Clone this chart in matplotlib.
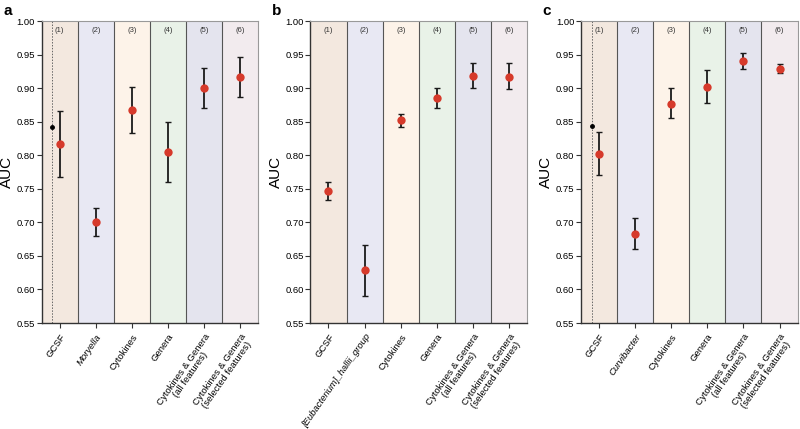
import matplotlib
matplotlib.use("Agg")
import matplotlib.pyplot as plt
import numpy as np

plt.rcParams['font.family'] = ['Liberation Sans', 'DejaVu Sans']

col_colors = ['#f3e8df', '#e8e8f3', '#fdf3e9', '#e9f2e8', '#e4e4ee', '#f2ebee']
col_nums = ['(1)', '(2)', '(3)', '(4)', '(5)', '(6)']

labels_a = ['GCSF', 'Moryella', 'Cytokines', 'Genera', 'Cytokines & Genera\n(all features)', 'Cytokines & Genera\n(selected features)']
labels_b = ['GCSF', '[Eubacterium]_hallii_group', 'Cytokines', 'Genera', 'Cytokines & Genera\n(all features)', 'Cytokines & Genera\n(selected features)']
labels_c = ['GCSF', 'Curvibacter', 'Cytokines', 'Genera', 'Cytokines & Genera\n(all features)', 'Cytokines & Genera\n(selected features)']

auc_a = [0.817, 0.700, 0.868, 0.805, 0.900, 0.916]
lo_a = [0.768, 0.680, 0.833, 0.760, 0.870, 0.887]
hi_a = [0.866, 0.721, 0.902, 0.850, 0.930, 0.946]

auc_b = [0.746, 0.629, 0.852, 0.885, 0.918, 0.917]
lo_b = [0.733, 0.591, 0.842, 0.870, 0.900, 0.899]
hi_b = [0.760, 0.666, 0.862, 0.900, 0.937, 0.937]

auc_c = [0.802, 0.683, 0.877, 0.902, 0.940, 0.929]
lo_c = [0.771, 0.660, 0.855, 0.878, 0.928, 0.922]
hi_c = [0.834, 0.706, 0.900, 0.927, 0.953, 0.936]

gcsf_ref_a = 0.842
gcsf_ref_c = 0.843

fig = plt.figure(figsize=(8, 4.29), dpi=100)

panels = [
    ('a', 0.052, labels_a, auc_a, lo_a, hi_a, gcsf_ref_a),
    ('b', 0.388, labels_b, auc_b, lo_b, hi_b, None),
    ('c', 0.726, labels_c, auc_c, lo_c, hi_c, gcsf_ref_c),
]

yt = np.arange(0.55, 1.001, 0.05)

for letter, left, labels, auc, lo, hi, ref in panels:
    ax = fig.add_axes([left, 0.247, 0.271, 0.704])
    n = len(labels)
    for i in range(n):
        ax.axvspan(i - 0.5, i + 0.5, facecolor=col_colors[i], edgecolor='none', zorder=0)
        ax.text(i, 0.986, col_nums[i], ha='center', va='center', fontsize=5.5, color='#333333')
    for i in range(1, n):
        ax.axvline(i - 0.5, color='#555555', lw=0.8, zorder=1)
    auc_arr = np.array(auc)
    yerr = np.vstack([auc_arr - np.array(lo), np.array(hi) - auc_arr])
    x = np.arange(n)
    ax.errorbar(x, auc_arr, yerr=yerr, fmt='none', ecolor='#1a1a1a', elinewidth=1.3, capsize=2, capthick=1.0, zorder=3)
    ax.plot(x, auc_arr, 'o', color='#d63a2b', ms=6, zorder=4, mec='none')
    if ref is not None:
        ax.axvline(-0.2, color='#666666', lw=0.7, ls=(0, (1.5, 1.5)), zorder=2)
        ax.plot([-0.2], [ref], 'o', color='black', ms=2.5, zorder=4)
    ax.set_xlim(-0.5, n - 0.5)
    ax.set_ylim(0.55, 1.0)
    ax.set_yticks(yt)
    ax.set_yticklabels([f'{v:.2f}' for v in yt], fontsize=6.8)
    ax.set_xticks(x)
    ax.set_xticklabels(labels, rotation=55, ha='right', rotation_mode='anchor',
                       fontsize=6.8, linespacing=1.0, multialignment='center')
    for j, t in enumerate(ax.get_xticklabels()):
        if j == 1:
            t.set_style('italic')
    ax.tick_params(axis='both', direction='out', length=3.5, width=0.8, color='#333333', pad=1.2)
    ax.tick_params(axis='x', pad=3)
    for s in ['left', 'bottom']:
        ax.spines[s].set_color('#333333')
        ax.spines[s].set_linewidth(1.0)
    for s in ['top', 'right']:
        ax.spines[s].set_color('#999999')
        ax.spines[s].set_linewidth(0.8)
    ax.set_ylabel('AUC', fontsize=11, labelpad=2)
    fig.text(left - 0.048, 0.975, letter, fontsize=11, fontweight='bold', va='center', ha='left')

fig.savefig('out.png', dpi=100)
